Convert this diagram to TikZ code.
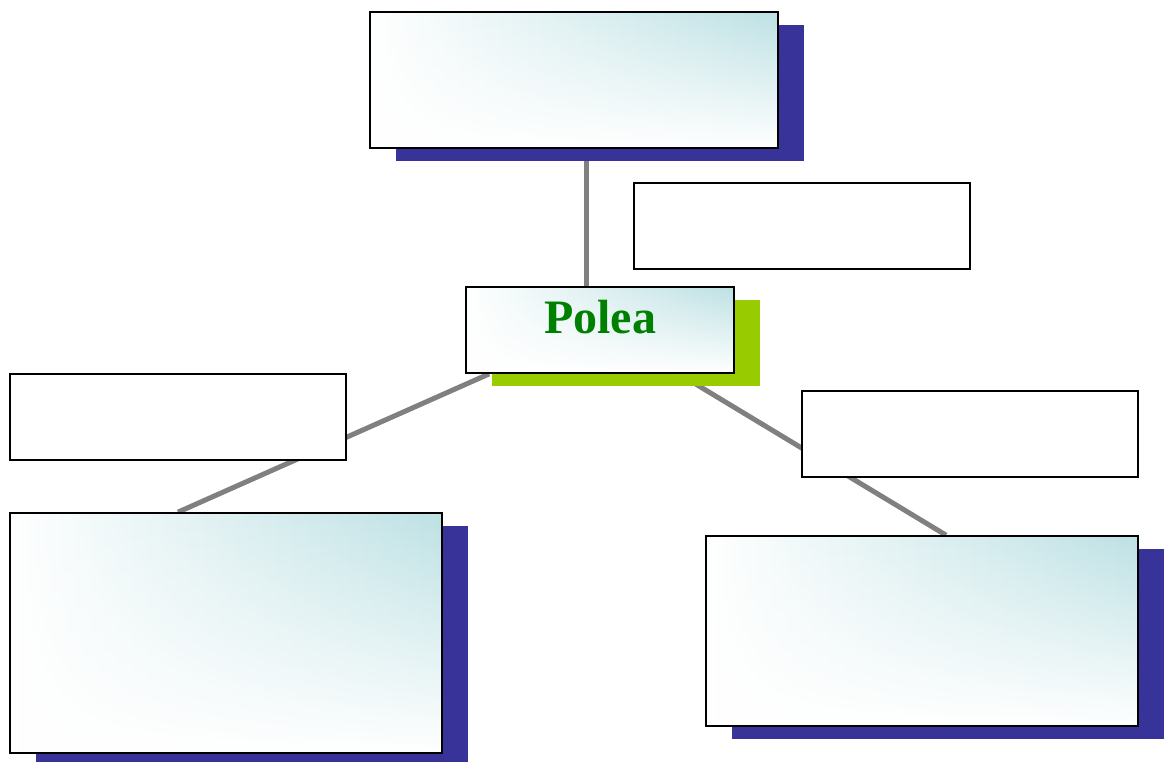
\documentclass[tikz,border=0pt]{standalone}
\usepackage{fontspec}
\setmainfont{Liberation Serif}
\usepackage{xcolor}
\usepackage{tikz}
\usetikzlibrary{calc,shadows,fadings,backgrounds}
\definecolor{boxteal}{RGB}{189,225,228}
\definecolor{shadowblue}{RGB}{56,51,153}
\definecolor{shadowgreen}{RGB}{153,204,0}
\definecolor{titlegreen}{RGB}{0,128,0}
\definecolor{linkgray}{RGB}{128,128,128}
\tikzfading[name=fade bottom,top color=transparent!100,middle color=transparent!70,bottom color=transparent!0]

\begin{document}
\begin{tikzpicture}[x=0.75pt,y=-0.75pt,
 card/.style={draw=black,line width=1.3pt,inner sep=0pt,left color=white,right color=boxteal,
  path picture={\fill[white,path fading=fade bottom] (path picture bounding box.south west) rectangle (path picture bounding box.north east);}},
 blueshadow/.style={drop shadow={shadow xshift=19.5pt,shadow yshift=-9.75pt,fill=shadowblue,opacity=1}},
 greenshadow/.style={drop shadow={shadow xshift=19.5pt,shadow yshift=-9.75pt,fill=shadowgreen,opacity=1}},
 note/.style={draw=black,line width=1.3pt,fill=white,minimum width=252pt,minimum height=64.5pt},
 link/.style={draw=linkgray,line width=3.75pt}]
\useasboundingbox (0,0) rectangle (1164,761);
\node[card,blueshadow,minimum width=306pt,minimum height=102pt] (top) at (574,80) {};
\node[note] (remark) at (802,226) {};
\node[card,greenshadow,minimum width=201pt,minimum height=64.5pt,text=titlegreen,
 font=\bfseries\fontsize{36pt}{40pt}\selectfont,text height=26pt,text depth=21.5pt] (polea) at (600,330) {Polea};
\node[note] (leftnote) at (178,417) {};
\node[card,blueshadow,minimum width=324pt,minimum height=180pt] (botleft) at (226,633) {};
\node[note] (rightnote) at (970,434) {};
\node[card,blueshadow,minimum width=324pt,minimum height=142.5pt] (botright) at (922,631) {};
\begin{scope}[on background layer]
\draw[link] ($(top.south)+(12,0)$) -- ($(polea.north)+(-14,0)$);
\draw[link] ($(polea.south west)+(24,0)$) -- (botleft.north -| leftnote.center);
\draw[link] ($(polea.south east)+(-56,0)$) -- ($(botright.north)+(24,0)$);
\end{scope}
\end{tikzpicture}
\end{document}
